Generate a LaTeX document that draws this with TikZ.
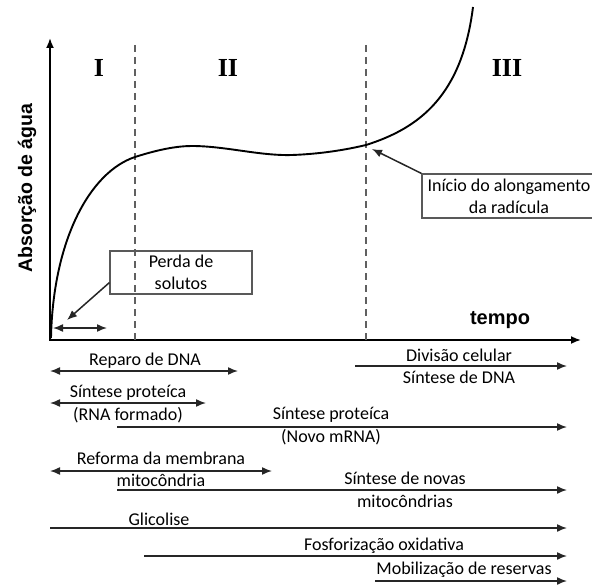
\documentclass[tikz,border=0pt]{standalone}
\usepackage{fontspec}
\setmainfont{Carlito}
\newfontfamily\axisfont{Liberation Sans}
\newfontfamily\phasefont{Liberation Serif}
\usetikzlibrary{arrows.meta, positioning}
\tikzset{
    >={Latex[length=10pt,width=8pt]}, % filled arrow heads
    axis/.style={line width=1.8pt, black}, % the two axes
    divider/.style={gray!75!black, line width=1.4pt, dash pattern=on 7pt off 5pt}, % phase borders
    curve/.style={line width=1.9pt, black}, % water uptake
    phase/.style={font=\phasefont\bfseries\fontsize{26}{28}\selectfont}, % I, II, III
    stage/.style={font=\fontsize{18}{20}\selectfont, inner sep=0pt}, % process texts
    callout/.style={draw=gray!70!black, line width=1.2pt, align=center, inner sep=1pt,
        font=\fontsize{18}{22}\selectfont}, % boxed notes
    process/.style={line width=1.5pt, black!85}, % process arrows
}

\begin{document}
\begin{tikzpicture}[x=1pt, y=-1pt]
    \useasboundingbox (0,0) rectangle (592,586);
    % axes
    \coordinate (origin) at (50,340);
    \coordinate (ytip) at (50,38);
    \coordinate (xtip) at (581,340);
    \draw[axis, <->] (ytip) -- (origin) -- (xtip);
    \node[rotate=90, font=\axisfont\bfseries\fontsize{19.5}{22}\selectfont] (ylab) at (27,188) {Absorção de água};
    \node[font=\axisfont\bfseries\fontsize{20}{22}\selectfont] (xlab) at (500,320) {tempo};
    % phases
    \coordinate (d1) at (135,45);
    \coordinate (d2) at (366,45);
    \draw[divider] (d1) -- (d1 |- origin);
    \draw[divider] (d2) -- (d2 |- origin);
    \node[phase] (p1) at (99,68) {I};
    \node[phase] (p2) at (228,68) {II};
    \node[phase] (p3) at (507,68) {III};
    \draw[curve] (51,338) .. controls (53,240) and (90,172) .. (135,157)
        .. controls (160,149) and (178,146) .. (192,146)
        .. controls (225,146) and (260,156) .. (292,155)
        .. controls (320,154) and (345,150) .. (366,145)
        .. controls (420,128) and (462,95) .. (473,7);
    % notes
    \node[callout, minimum width=142pt, minimum height=43pt] (perda) at (181,272.5) {Perda de\\solutos};
    \coordinate (perdaA) at (53,328);
    \coordinate (perdaB) at (107,328);
    \coordinate (perdaTip) at (67,320);
    \draw[process, <->] (perdaA) -- (perdaB);
    \draw[process, ->] ([yshift=12pt]perda.south west) -- (perdaTip);
    \node[callout, minimum width=174pt, minimum height=44pt] (inicio) at (509,196) {Início do alongamento\\da radícula};
    \coordinate (inicioTip) at (372,149);
    \draw[process, ->] (inicio.north west) -- (inicioTip);
    % processes
    \coordinate (repA) at (50,371);  \coordinate (repB) at (238,371);
    \coordinate (divA) at (355,366); \coordinate (divB) at (567,366);
    \coordinate (rnaA) at (50,403);  \coordinate (rnaB) at (206,403);
    \coordinate (mrnA) at (117,427); \coordinate (mrnB) at (567,427);
    \coordinate (memA) at (50,471);  \coordinate (memB) at (272,471);
    \coordinate (mitA) at (117,490); \coordinate (mitB) at (567,490);
    \coordinate (gliA) at (50,528);  \coordinate (gliB) at (567,528);
    \coordinate (fosA) at (144,556); \coordinate (fosB) at (567,556);
    \coordinate (mobA) at (375,581); \coordinate (mobB) at (567,581);
    \draw[process, <->] (repA) -- (repB);
    \draw[process, ->] (divA) -- (divB);
    \draw[process, <->] (rnaA) -- (rnaB);
    \draw[process, ->] (mrnA) -- (mrnB);
    \draw[process, <->] (memA) -- (memB);
    \draw[process, ->] (mitA) -- (mitB);
    \draw[process, ->] (gliA) -- (gliB);
    \draw[process, ->] (fosA) -- (fosB);
    \draw[process, ->] (mobA) -- (mobB);
    \node[stage] (rep) at (145,361) {Reparo de DNA};
    \node[stage] (div1) at (459,355) {Divisão celular};
    \node[stage] (div2) at (459,377) {Síntese de DNA};
    \node[stage] (rna1) at (128,393) {Síntese proteíca};
    \node[stage] (rna2) at (128,415) {(RNA formado)};
    \node[stage] (mrn1) at (331,415) {Síntese proteíca};
    \node[stage] (mrn2) at (331,437) {(Novo mRNA)};
    \node[stage] (mem1) at (161,458) {Reforma da membrana};
    \node[stage] (mem2) at (161,480) {mitocôndria};
    \node[stage] (mit1) at (405,478) {Síntese de novas};
    \node[stage] (mit2) at (405,501) {mitocôndrias};
    \node[stage] (gli) at (159,519) {Glicolise};
    \node[stage] (fos) at (384,546) {Fosforização oxidativa};
    \node[stage] (mob) at (464,570) {Mobilização de reservas};
\end{tikzpicture}
\end{document}
